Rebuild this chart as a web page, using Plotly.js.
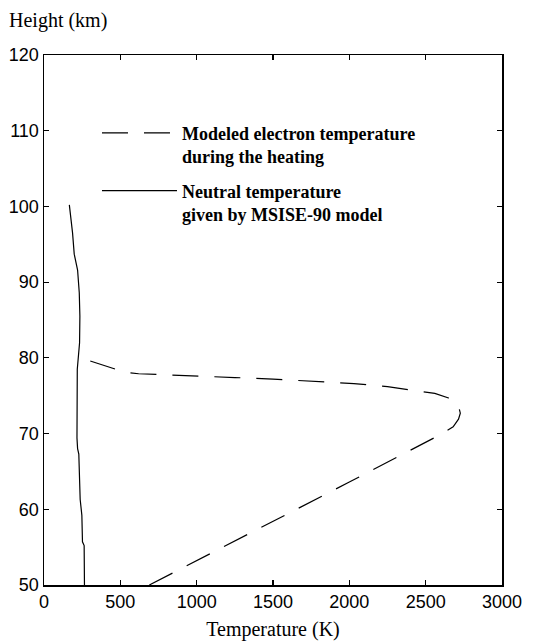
<!DOCTYPE html>
<html>
<head>
<meta charset="utf-8">
<script src="https://cdn.plot.ly/plotly-3.0.1.min.js"></script>
<style>
  html, body { margin: 0; padding: 0; background: #ffffff; }
  #chart { width: 537px; height: 643px; }
</style>
</head>
<body>
<div id="chart"></div>
<script>
// Modeled electron temperature during the heating (K) vs height (km)
const electronTemp = [690, 1000, 1500, 2000, 2400, 2600, 2680, 2715, 2727, 2718, 2695, 2650, 2560, 2420, 2250, 2030, 1800, 1500, 1250, 1000, 800, 620, 530, 450, 380, 300, 250];
const electronHeight = [50, 53.2, 58.4, 63.6, 67.8, 69.9, 70.9, 71.9, 72.7, 73.4, 74.1, 74.7, 75.3, 75.7, 76.2, 76.6, 76.9, 77.2, 77.4, 77.6, 77.8, 77.9, 78.1, 78.6, 79.1, 79.6, 80.0];

// Neutral temperature given by MSISE-90 model (K) vs height (km)
const neutralTemp = [166, 178, 187, 198, 220, 231, 235, 233, 224, 218, 216, 220, 228, 231, 237, 248, 252, 263, 265];
const neutralHeight = [100.2, 98.3, 96.5, 93.7, 91.6, 88.6, 85.5, 82.0, 80.0, 78.5, 69.4, 68.0, 67.3, 64.3, 61.3, 59.2, 55.7, 55.2, 50];

const xTicks = [0, 500, 1000, 1500, 2000, 2500, 3000];
const yTicks = [50, 60, 70, 80, 90, 100, 110, 120];

const seriesNames = [
  "<b>Modeled electron temperature<br>during the heating</b>",
  "<b>Neutral temperature<br>given by MSISE-90 model</b>"
];

const traces = [
  {
    x: electronTemp, y: electronHeight, type: "scatter", mode: "lines",
    name: seriesNames[0], legendgroup: "electron",
    line: { color: "#000000", width: 1.2, dash: "26px,16px" }
  },
  {
    x: neutralTemp, y: neutralHeight, type: "scatter", mode: "lines",
    name: seriesNames[1], legendgroup: "neutral",
    line: { color: "#000000", width: 1.2 }
  }
];

const axisCommon = {
  showgrid: false, zeroline: false,
  showline: true, linecolor: "#000000", linewidth: 1.5,
  mirror: "ticks", ticks: "inside", ticklen: 5, tickwidth: 1.2, tickcolor: "#000000",
  tickfont: { family: "Liberation Sans, Arial, sans-serif", size: 18, color: "#000000" }
};

const layout = {
  width: 537, height: 643,
  paper_bgcolor: "#ffffff", plot_bgcolor: "#ffffff",
  margin: { l: 44, r: 35, t: 55, b: 58 },
  showlegend: true,
  legend: {
    x: 0.1157, y: 0.8875, xanchor: "left", yanchor: "top",
    bgcolor: "rgba(0,0,0,0)", borderwidth: 0,
    itemwidth: 75, valign: "top", tracegroupgap: 8,
    font: { family: "Liberation Serif, Times New Roman, serif", size: 18, color: "#000000" }
  },
  xaxis: Object.assign({}, axisCommon, {
    range: [0, 3000], tickvals: xTicks, ticktext: xTicks.map(String),
    title: { text: "Temperature (K)", standoff: 11,
      font: { family: "Liberation Serif, Times New Roman, serif", size: 20, color: "#000000" } }
  }),
  yaxis: Object.assign({}, axisCommon, {
    range: [50, 120], tickvals: yTicks, ticktext: yTicks.map(String)
  }),
  annotations: [{
    text: "Height (km)", xref: "paper", yref: "paper",
    x: -0.08, y: 1.04, xanchor: "left", yanchor: "bottom", showarrow: false,
    font: { family: "Liberation Serif, Times New Roman, serif", size: 20, color: "#000000" }
  }]
};

Plotly.newPlot("chart", traces, layout, { displayModeBar: false, staticPlot: true });
</script>
</body>
</html>
